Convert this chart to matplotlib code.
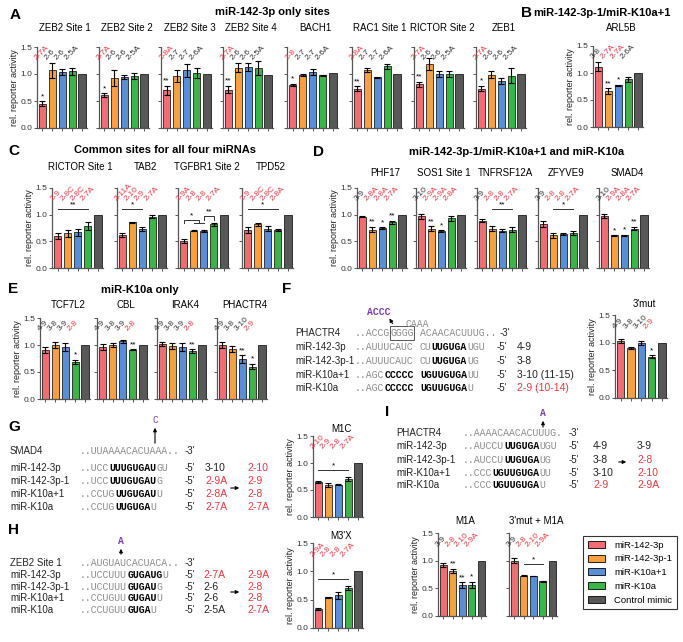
import numpy as np
import matplotlib.pyplot as plt
from matplotlib.patches import Patch, Rectangle, FancyArrowPatch

plt.rcParams['font.family'] = ['Liberation Sans', 'DejaVu Sans']

W, H = 683, 642
RED = '#E8383F'
PURPLE = '#7A3FA6'
colors = ['#EE6E74', '#F5A043', '#5A8ED5', '#3BB54A', '#585858']
legend_names = ['miR-142-3p', 'miR-142-3p-1', 'miR-K10a+1', 'miR-K10a', 'Control mimic']

# ---- A: miR-142-3p only sites
A_titles = ['ZEB2 Site 1', 'ZEB2 Site 2', 'ZEB2 Site 3', 'ZEB2 Site 4', 'BACH1',
            'RAC1 Site 1', 'RICTOR Site 2', 'ZEB1']
A_vals = [[0.45, 1.07, 1.04, 1.05, 1.00],
          [0.61, 0.92, 0.94, 0.96, 1.00],
          [0.70, 0.96, 1.07, 1.02, 1.00],
          [0.71, 1.12, 1.13, 1.11, 0.99],
          [0.80, 0.98, 1.04, 0.98, 1.02],
          [0.73, 1.07, 0.94, 1.14, 1.00],
          [0.81, 1.19, 1.00, 1.00, 1.00],
          [0.73, 0.99, 0.87, 0.97, 1.00]]
A_errs = [[0.05, 0.14, 0.05, 0.07],
          [0.03, 0.15, 0.04, 0.05],
          [0.08, 0.11, 0.12, 0.10],
          [0.07, 0.09, 0.08, 0.13],
          [0.02, 0.02, 0.05, 0.01],
          [0.04, 0.04, 0.01, 0.04],
          [0.05, 0.11, 0.06, 0.05],
          [0.05, 0.07, 0.06, 0.14]]
A_sites = [['2-7A', '2-6', '2-6', '2-5A'],
           ['2-7A', '2-6', '2-6', '2-5A'],
           ['2-8A', '2-7', '2-7', '2-6A'],
           ['2-7A', '2-6', '2-6', '2-5A'],
           ['2-8', '2-7', '2-7', '2-6A'],
           ['2-8A', '2-7', '2-7', '2-6A'],
           ['2-7A', '2-6', '2-6', '2-5A'],
           ['2-7A', '2-6', '2-6', '2-5A']]
A_red = [[True, False, False, False]] * 8
A_stars = [['*', '', '', ''], ['*', '', '', ''], ['**', '', '', ''], ['**', '', '', ''],
           ['*', '', '', ''], ['**', '', '', ''], ['**', '', '', ''], ['*', '', '', '']]

# ---- B
B_title = 'ARL5B'
B_vals = [1.12, 0.67, 0.77, 0.88, 1.00]
B_errs = [0.09, 0.05, 0.01, 0.04]
B_sites = ['3-8', '2-7A', '2-7A', '2-6A']
B_red = [False, True, True, False]
B_stars = ['', '**', '*', '']

# ---- C: common sites
C_titles = ['RICTOR Site 1', 'TAB2', 'TGFBR1 Site 2', 'TPD52']
C_vals = [[0.60, 0.65, 0.67, 0.79, 1.00],
          [0.62, 0.86, 0.73, 0.96, 1.00],
          [0.51, 0.70, 0.69, 0.82, 1.00],
          [0.71, 0.82, 0.74, 0.71, 1.00]]
C_errs = [[0.06, 0.06, 0.07, 0.08],
          [0.04, 0.01, 0.04, 0.03],
          [0.04, 0.01, 0.02, 0.03],
          [0.05, 0.03, 0.05, 0.02]]
C_sites = [['2-9', '2-8C', '2-8C', '2-7A'],
           ['2-11A', '2-10', '2-9', '2-7A'],
           ['2-9A', '2-8', '2-8', '2-7A'],
           ['2-9', '2-8C', '2-8C', '2-8A']]
C_lines = [[(0, 3, 1.10, '**', 0)],
           [(0, 2, 1.10, '*', 0)],
           [(0, 1.5, 0.90, '*', 0.05), (1, 2, 0.85, '', 0), (2, 3, 0.97, '**', 0.07)],
           [(0, 3, 1.10, '*', 0)]]

# ---- D
D_titles = ['PHF17', 'SOS1 Site 1', 'TNFRSF12A', 'ZFYVE9', 'SMAD4']
D_vals = [[0.96, 0.72, 0.75, 0.86, 1.00],
          [0.97, 0.74, 0.69, 0.93, 1.00],
          [0.89, 0.74, 0.70, 0.72, 1.00],
          [0.83, 0.61, 0.64, 0.65, 1.00],
          [0.98, 0.61, 0.61, 0.74, 1.00]]
D_errs = [[0.01, 0.05, 0.01, 0.03],
          [0.05, 0.04, 0.02, 0.05],
          [0.03, 0.05, 0.03, 0.04],
          [0.06, 0.04, 0.02, 0.04],
          [0.04, 0.005, 0.01, 0.03]]
D_sites = [['3-9', '2-8A', '2-8A', '2-7A'],
           ['3-10', '2-9A', '2-9A', '2-8A'],
           ['3-9', '2-8', '2-8', '2-7A'],
           ['3-9', '2-8', '2-8', '2-7A'],
           ['3-10', '2-9A', '2-8A', '2-7A']]
D_stars = [['', '**', '*', '**'], ['', '**', '*', ''], ['', '', '', ''],
           ['', '', '', ''], ['', '*', '*', '**']]
D_lines = [[], [], [(1, 3, 1.10, '**', 0)], [(1, 3, 1.10, '*', 0)], []]

# ---- E
E_titles = ['TCF7L2', 'CBL', 'IRAK4', 'PHACTR4']
E_vals = [[0.91, 1.00, 0.96, 0.69, 1.00],
          [0.96, 1.00, 1.07, 0.91, 1.00],
          [1.02, 0.98, 0.96, 0.89, 1.00],
          [1.00, 0.93, 0.74, 0.60, 1.00]]
E_errs = [[0.05, 0.05, 0.08, 0.04],
          [0.05, 0.04, 0.03, 0.01],
          [0.03, 0.05, 0.07, 0.03],
          [0.05, 0.06, 0.07, 0.05]]
E_sites = [['4-9', '3-8', '3-9', '2-8'],
           ['4-9', '3-8', '3-9', '2-8'],
           ['4-9', '3-8', '3-9', '2-8'],
           ['4-9', '3-8', '3-10', '2-9']]
E_stars = [['', '', '', '*'], ['', '', '', '**'], ['', '', '', '**'], ['', '', '**', '*']]

# ---- F
F_vals = [1.03, 0.91, 0.99, 0.75, 1.00]
F_errs = [0.04, 0.02, 0.04, 0.02]
F_sites = ['4-9', '3-8', '3-10', '2-9']
F_names = ['PHACTR4', 'miR-142-3p', 'miR-142-3p-1', 'miR-K10a+1', 'miR-K10a']
F_left = [[('..ACCG', 'g'), ('GGGG', 'g')], [('..AUUUCAUC', 'g')], [('..AUUUCAUC', 'g')],
          [('..AGC', 'g'), ('CCCCC', 'b')], [('..AGC', 'g'), ('CCCCC', 'b')]]
F_right = [[('ACAACACUUUG..', 'g')], [('CU', 'g'), ('UUGUGA', 'b'), ('UGU', 'g')],
           [('CU', 'g'), ('UUGUGA', 'b'), ('UG', 'g')], [('UGUUGUGA', 'b'), ('UU', 'g')],
           [('UGUUGUGA', 'b'), ('U', 'g')]]
F_info = ['', '4-9', '3-8', '3-10 (11-15)', '2-9 (10-14)']

# ---- G
G_vals = [0.65, 0.59, 0.60, 0.71, 1.00]
G_errs = [0.02, 0.04, 0.01, 0.04]
G_sites = ['2-10', '2-9', '2-8', '2-7A']
G_names = ['SMAD4', 'miR-142-3p', 'miR-142-3p-1', 'miR-K10a+1', 'miR-K10a']
G_seq = [[('..UUAAAACACUAAA..', 'g')], [('..UCC', 'g'), ('UUUGUGAU', 'b'), ('GU', 'g')],
         [('..UCC', 'g'), ('UUUGUGAU', 'b'), ('G', 'g')], [('..CCUG', 'g'), ('UUGUGAU', 'b'), ('U', 'g')],
         [('..CCUG', 'g'), ('UUGUGA', 'b'), ('U', 'g')]]
G_before = ['', '3-10', '2-9A', '2-8A', '2-7A']
G_after = ['', '2-10', '2-9', '2-8', '2-7A']

# ---- H
H_vals = [0.34, 0.54, 0.58, 0.71, 1.00]
H_errs = [0.02, 0.01, 0.06, 0.04]
H_sites = ['2-9A', '2-8', '2-8', '2-7A']
H_names = ['ZEB2 Site 1', 'miR-142-3p', 'miR-142-3p-1', 'miR-K10a+1', 'miR-K10a']
H_seq = [[('..AUGUAUCACUACA..', 'g')], [('..UCCUUU', 'g'), ('GUGAUG', 'b'), ('U', 'g')],
         [('..UCCUUU', 'g'), ('GUGAU', 'b'), ('G', 'g')], [('..CCUGUU', 'g'), ('GUGAU', 'b'), ('U', 'g')],
         [('..CCUGUU', 'g'), ('GUGA', 'b'), ('U', 'g')]]
H_before = ['', '2-7A', '2-6', '2-6', '2-5A']
H_after = ['', '2-9A', '2-8', '2-8', '2-7A']

# ---- I
I_titles = ['M1A', "3'mut + M1A"]
I_vals = [[0.92, 0.81, 0.56, 0.56, 1.00],
          [1.00, 0.73, 0.72, 0.63, 1.00]]
I_errs = [[0.04, 0.04, 0.05, 0.06],
          [0.05, 0.01, 0.005, 0.01]]
I_sites = ['3-9', '2-8', '2-10', '2-9A']
I_names = ['PHACTR4', 'miR-142-3p', 'miR-142-3p-1', 'miR-K10a+1', 'miR-K10a']
I_seq = [[('..AAAACAACACUUUG.', 'g')], [('..AUCCU', 'g'), ('UUGUGA', 'b'), ('UGU', 'g')],
         [('..AUCCU', 'g'), ('UUGUGA', 'b'), ('UG', 'g')], [('..CCC', 'g'), ('UGUUGUGA', 'b'), ('UU', 'g')],
         [('..CCC', 'g'), ('UGUUGUGA', 'b'), ('U', 'g')]]
I_before = ['', '4-9', '3-8', '3-10', '2-9']
I_after = ['', '3-9', '2-8', '2-10', '2-9A']


def is_red(s):
    return s.startswith('2-')


fig = plt.figure(figsize=(W / 100, H / 100), dpi=100)


def fx(x):
    return x / W


def fy(y):
    return 1 - y / H


def ftext(x, y, s, **kw):
    kw.setdefault('va', 'center')
    kw.setdefault('fontsize', 7)
    fig.text(fx(x), fy(y), s, **kw)


def bar_axes(x0, x1, ytop, ybot, vals, errs, sites, red=None, stars=None, lines=(),
             first=False, title=None, title_y=None):
    ax = fig.add_axes([fx(x0), fy(ybot), (x1 - x0) / W, (ybot - ytop) / H])
    x = np.arange(5)
    ax.bar(x, vals, width=0.72, color=colors, edgecolor='black', linewidth=0.5, zorder=2)
    ax.errorbar(x[:4], vals[:4], yerr=errs, fmt='none', ecolor='black',
                elinewidth=0.8, capsize=2, capthick=0.8, zorder=3)
    ax.set_xlim(-0.55, 4.5)
    ax.set_ylim(0, 1.5)
    ax.set_xticks(x)
    ax.set_xticklabels([])
    ax.set_yticks([0, 0.5, 1.0, 1.5])
    for sp in ['top', 'right']:
        ax.spines[sp].set_visible(False)
    for sp in ['left', 'bottom']:
        ax.spines[sp].set_linewidth(0.9)
        ax.spines[sp].set_color('#555555')
    ax.tick_params(length=2.5, width=0.7, colors='#555555', labelsize=6, pad=1)
    ax.tick_params(axis='y', labelcolor='#333333')
    if first:
        ax.set_yticklabels(['0.0', '0.5', '1.0', '1.5'])
        ax.set_ylabel('rel. reporter activity', fontsize=6.5, labelpad=1, color='#222222')
    else:
        ax.set_yticklabels([])
    for i, s in enumerate(sites):
        r = red[i] if red is not None else is_red(s)
        ax.text(i - 0.4, 1.23, s, rotation=45, rotation_mode='anchor', ha='left', va='bottom',
                fontsize=6.0, color=RED if r else '#333333', clip_on=False)
    if stars:
        for i, s in enumerate(stars):
            if s:
                ax.text(i, vals[i] + errs[i] + 0.02, s, ha='center', va='bottom', fontsize=6)
    for a, b, y, s, drop in lines:
        ax.plot([a, a, b, b], [y - drop, y, y, y - drop], color='#333333', lw=0.7)
        if s:
            ax.text((a + b) / 2, y + 0.01, s, ha='center', va='bottom', fontsize=6)
    if title:
        ftext((x0 + x1) / 2 + 3, title_y, title, ha='center', fontsize=7)
    return ax


def seq_row(x0, y, segs, cw=5.9):
    col = 0
    for s, st in segs:
        fig.text(fx(x0 + col * cw), fy(y), s, family='Liberation Mono', fontsize=7.1,
                 fontweight='bold' if st == 'b' else 'normal',
                 color='black' if st == 'b' else '#8C8C8C', va='center', ha='left')
        col += len(s)


def arrow(p0, p1, color='black'):
    fig.add_artist(FancyArrowPatch((fx(p0[0]), fy(p0[1])), (fx(p1[0]), fy(p1[1])),
                                   transform=fig.transFigure, arrowstyle='-|>',
                                   mutation_scale=5, lw=0.8, color=color))


# ---------------- Panel A
A_x = [(37, 87), (99, 149), (161, 212), (223, 273), (287, 338), (352, 402), (414, 464), (476, 526)]
for k, (x0, x1) in enumerate(A_x):
    bar_axes(x0, x1, 47, 128, A_vals[k], A_errs[k], A_sites[k], A_red[k], A_stars[k],
             first=(k == 0), title=A_titles[k], title_y=28)
ftext(10, 15, 'A', fontsize=11, fontweight='bold')
ftext(272, 12, 'miR-142-3p only sites', ha='center', fontsize=8, fontweight='bold')

# ---------------- Panel B
bar_axes(593, 643, 46, 127, B_vals, B_errs, B_sites, B_red, B_stars, first=True,
         title=B_title, title_y=28)
ftext(521, 13, 'B', fontsize=11, fontweight='bold')
ftext(533, 13, 'miR-142-3p-1/miR-K10a+1', fontsize=8, fontweight='bold')

# ---------------- Panel C
C_x = [(52, 103), (117, 167), (178, 229), (242, 293)]
for k, (x0, x1) in enumerate(C_x):
    bar_axes(x0, x1, 188, 268, C_vals[k], C_errs[k], C_sites[k], lines=C_lines[k],
             first=(k == 0), title=C_titles[k], title_y=167)
ftext(8, 151, 'C', fontsize=11, fontweight='bold')
ftext(165, 150, 'Common sites for all four miRNAs', ha='center', fontsize=8, fontweight='bold')

# ---------------- Panel D
D_x = [(357, 407), (416, 466), (477, 527), (538, 588), (599, 649)]
for k, (x0, x1) in enumerate(D_x):
    bar_axes(x0, x1, 188, 268, D_vals[k], D_errs[k], D_sites[k], stars=D_stars[k],
             lines=D_lines[k], first=(k == 0), title=D_titles[k], title_y=173)
ftext(313, 152, 'D', fontsize=11, fontweight='bold')
ftext(517, 152, 'miR-142-3p-1/miR-K10a+1 and miR-K10a', ha='center', fontsize=8,
      fontweight='bold')

# ---------------- Panel E
E_x = [(40, 90), (97, 148), (157, 207), (217, 267)]
for k, (x0, x1) in enumerate(E_x):
    bar_axes(x0, x1, 318, 399, E_vals[k], E_errs[k], E_sites[k], stars=E_stars[k],
             first=(k == 0), title=E_titles[k], title_y=305)
ftext(8, 289, 'E', fontsize=11, fontweight='bold')
ftext(140, 290, 'miR-K10a only', ha='center', fontsize=8, fontweight='bold')

# ---------------- Panel F
ftext(282, 289, 'F', fontsize=11, fontweight='bold')
F_rows = [333, 347, 361, 375, 388]
for k, y in enumerate(F_rows):
    ftext(295, y, F_names[k], color='#222222')
    seq_row(355, y, F_left[k])
    seq_row(355 + 11 * 5.9, y, F_right[k])
    ftext(500 if k == 0 else 497, y, "-3'" if k == 0 else "-5'", color='#222222')
    if F_info[k]:
        ftext(517, y, F_info[k], fontsize=7.5, color=RED if k == 4 else '#222222')
fig.add_artist(Rectangle((fx(389.5), fy(340)), 24 / W, 14 / H, transform=fig.transFigure,
                         fill=False, edgecolor='#555555', lw=0.7))
fig.text(fx(367), fy(312), 'ACCC', family='Liberation Mono', fontsize=7, fontweight='bold',
         color=PURPLE, va='center')
fig.text(fx(405), fy(324), 'CAAA', family='Liberation Mono', fontsize=7, color='#8C8C8C',
         va='center')
arrow((394, 326), (388, 316))
bar_axes(615, 667, 315, 398, F_vals, F_errs, F_sites, stars=['', '', '', '*'], first=True,
         title="3'mut", title_y=304)

# ---------------- Panel G
ftext(8, 427, 'G', fontsize=11, fontweight='bold')
G_rows = [451, 468, 481, 494, 507]
for k, y in enumerate(G_rows):
    ftext(10, y, G_names[k], color='#222222')
    seq_row(80, y, G_seq[k])
    ftext(185, y, "-3'" if k == 0 else "-5'", color='#222222')
    if G_before[k]:
        ftext(205, y, G_before[k], fontsize=7.5, color=RED if k > 1 else '#222222')
        ftext(247, y, G_after[k], fontsize=7.5, color=RED)
arrow((228, 488), (242, 488))
fig.text(fx(155), fy(420), 'C', family='Liberation Mono', fontsize=7, color=PURPLE,
         ha='center', va='center')
arrow((155, 446), (155, 425))
bar_axes(313, 363, 436, 517, G_vals, G_errs, G_sites, lines=[(0, 3, 0.87, '*', 0)], first=True,
         title='M1C', title_y=429)

# ---------------- Panel H
ftext(8, 530, 'H', fontsize=11, fontweight='bold')
H_rows = [563, 575, 587, 598, 610]
for k, y in enumerate(H_rows):
    ftext(10, y, H_names[k], color='#222222')
    seq_row(80, y, H_seq[k])
    ftext(185, y, "-3'" if k == 0 else "-5'", color='#222222')
    if H_before[k]:
        ftext(203, y, H_before[k], fontsize=7.5, color=RED if k == 1 else '#222222')
        ftext(247, y, H_after[k], fontsize=7.5, color=RED)
arrow((228, 592), (242, 592))
fig.text(fx(121), fy(541), 'A', family='Liberation Mono', fontsize=7, fontweight='bold',
         color=PURPLE, ha='center', va='center')
arrow((121, 557), (121, 546))
bar_axes(313, 363, 543, 628, H_vals, H_errs, H_sites, lines=[(0, 3, 0.86, '*', 0)], first=True,
         title="M3'X", title_y=536)

# ---------------- Panel I
ftext(385, 412, 'I', fontsize=11, fontweight='bold')
I_rows = [433, 446, 460, 473, 485]
for k, y in enumerate(I_rows):
    ftext(396, y, I_names[k], color='#222222')
    seq_row(463, y, I_seq[k])
    ftext(569, y, "-3'" if k == 0 else "-5'", color='#222222')
    if I_before[k]:
        ftext(593, y, I_before[k], fontsize=7.5, color=RED if k == 4 else '#222222')
        ftext(637, y, I_after[k], fontsize=7.5, color='#222222' if k == 1 else RED)
arrow((616, 462), (629, 462))
fig.text(fx(543), fy(413), 'A', family='Liberation Mono', fontsize=7, fontweight='bold',
         color=PURPLE, ha='center', va='center')
arrow((543, 430), (543, 418))
bar_axes(438, 486, 533, 616, I_vals[0], I_errs[0], I_sites, stars=['', '**', '**', '*'],
         first=True, title=I_titles[0], title_y=521)
bar_axes(509, 557, 533, 616, I_vals[1], I_errs[1], I_sites, lines=[(1, 3, 0.94, '*', 0)],
         title=I_titles[1], title_y=521)

# ---------------- legend
handles = [Patch(facecolor=c, edgecolor='black', linewidth=0.6) for c in colors]
leg = fig.legend(handles, legend_names, loc='upper left', bbox_to_anchor=(fx(583), fy(536)),
                 frameon=True, fancybox=False, edgecolor='black', fontsize=6.8,
                 handlelength=1.8, handleheight=0.8, labelspacing=0.5, borderpad=0.5,
                 handletextpad=1.0, borderaxespad=0)
leg.get_frame().set_linewidth(0.8)

fig.savefig('out.png', dpi=100)
